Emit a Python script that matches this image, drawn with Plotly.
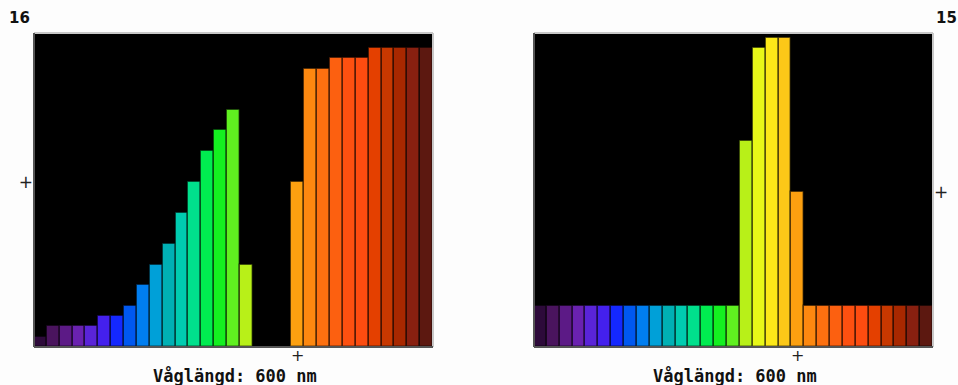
import plotly.graph_objects as go

wavelengths = list(range(400, 701, 10))
colors = ["#2d0a3a", "#4a145e", "#5c1a86", "#6a22b0", "#5a24d8", "#4420ee", "#1428ff",
          "#0058f0", "#007ef0", "#00a0d8", "#00b0b4", "#00ccb0", "#00e08c", "#00ec50",
          "#14f020", "#60f020", "#b8f018", "#e8f818", "#fce818", "#fcc818", "#fca010",
          "#fc8810", "#fc7010", "#fc6010", "#fc5010", "#fc4c10", "#e44000", "#c83800",
          "#a82800", "#882010", "#5c1810"]
left_values = [1, 2, 2, 2, 2, 3, 3, 4, 6, 8, 10, 13, 16, 19, 21, 23, 8, 0, 0, 0,
               16, 27, 27, 28, 28, 28, 29, 29, 29, 29, 29]
right_values = [4, 4, 4, 4, 4, 4, 4, 4, 4, 4, 4, 4, 4, 4, 4, 4, 20, 29, 30, 30,
                15, 4, 4, 4, 4, 4, 4, 4, 4, 4, 4]
marker_wl = 600
x_label = "Våglängd: 600 nm"

W, H = 958, 385
yb = 1 - 347 / H
yt = 1 - 33 / H
dom_left = [34 / W, 433 / W]
dom_right = [534 / W, 933 / W]

fig = go.Figure()
line = dict(color="rgba(0,0,0,0.55)", width=1.5)
fig.add_trace(go.Bar(x=wavelengths, y=left_values, marker=dict(color=colors, line=line),
                     xaxis="x", yaxis="y", showlegend=False))
fig.add_trace(go.Bar(x=wavelengths, y=right_values, marker=dict(color=colors, line=line),
                     xaxis="x2", yaxis="y2", showlegend=False))

idx = wavelengths.index(marker_wl)
tickfont = dict(family="DejaVu Sans", size=17, color="#222")
xcommon = dict(range=[395, 705], showticklabels=False, showgrid=False,
               zeroline=False, ticks="", showline=False, fixedrange=True)
fig.update_layout(
    width=W, height=H, margin=dict(l=0, r=0, t=0, b=0),
    paper_bgcolor="#fdfdfd", plot_bgcolor="#000000", bargap=0,
    xaxis=dict(domain=dom_left, anchor="y", **xcommon),
    xaxis2=dict(domain=dom_right, anchor="y2", **xcommon),
    yaxis=dict(domain=[yb, yt], range=[0, 30.45], tickvals=[left_values[idx]], ticktext=["+"],
               showgrid=False, zeroline=False, ticks="", tickfont=tickfont, anchor="x"),
    yaxis2=dict(domain=[yb, yt], range=[0, 30.45], tickvals=[right_values[idx]], ticktext=["+"],
                side="right", showgrid=False, zeroline=False, ticks="", tickfont=tickfont, anchor="x2"),
)

shapes = []
for xd, yd in (("x domain", "y domain"), ("x2 domain", "y2 domain")):
    shapes += [
        dict(type="line", xref=xd, yref=yd, x0=0, x1=1, y0=1, y1=1, line=dict(color="#c8c8c8", width=2)),
        dict(type="line", xref=xd, yref=yd, x0=1, x1=1, y0=0, y1=1, line=dict(color="#c8c8c8", width=2)),
        dict(type="line", xref=xd, yref=yd, x0=0, x1=1, y0=0, y1=0, line=dict(color="#555555", width=2)),
        dict(type="line", xref=xd, yref=yd, x0=0, x1=0, y0=0, y1=1, line=dict(color="#555555", width=2)),
    ]
fig.update_layout(shapes=shapes)

# "+" markers under the 600 nm bar
for xr in ("x", "x2"):
    fig.add_annotation(text="+", xref=xr, yref="paper", x=marker_wl, y=1 - 355 / H,
                       showarrow=False, font=dict(family="DejaVu Sans", size=16, color="#222"),
                       xanchor="center", yanchor="middle")

numfont = dict(family="DejaVu Sans", size=15, color="#111")
labfont = dict(family="DejaVu Sans Mono", size=17, color="#111")
fig.add_annotation(text="<b>%d</b>" % left_values[idx], xref="paper", yref="paper",
                   x=19 / W, y=1 - 18 / H, showarrow=False, font=numfont, xanchor="center", yanchor="middle")
fig.add_annotation(text="<b>%d</b>" % right_values[idx], xref="paper", yref="paper",
                   x=946 / W, y=1 - 18 / H, showarrow=False, font=numfont, xanchor="center", yanchor="middle")
fig.add_annotation(text="<b>%s</b>" % x_label, xref="paper", yref="paper",
                   x=234.5 / W, y=1 - 375 / H, showarrow=False, font=labfont, xanchor="center", yanchor="middle")
fig.add_annotation(text="<b>%s</b>" % x_label, xref="paper", yref="paper",
                   x=734.5 / W, y=1 - 375 / H, showarrow=False, font=labfont, xanchor="center", yanchor="middle")

fig.write_html("out.html")
